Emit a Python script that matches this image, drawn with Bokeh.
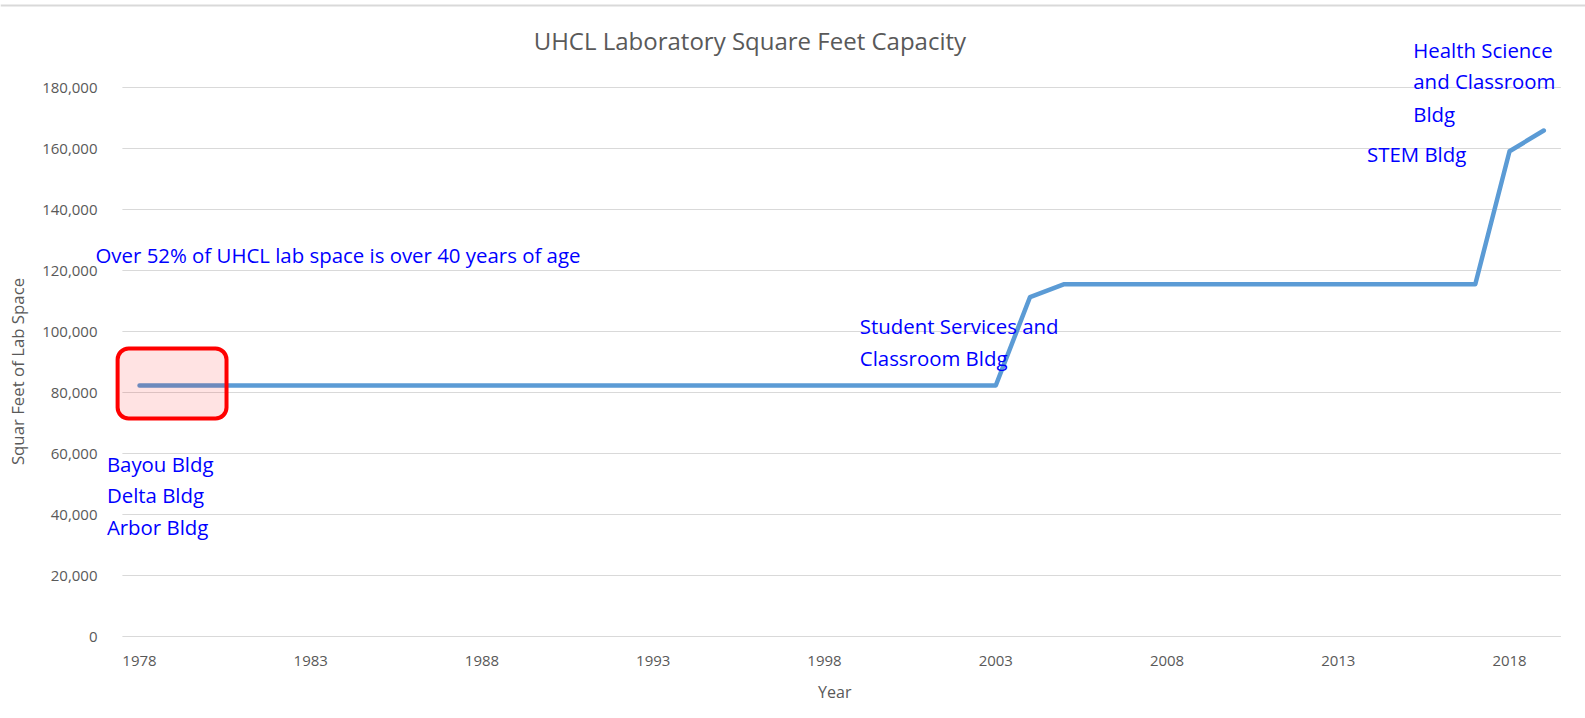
from bokeh.plotting import figure
from bokeh.models import Range1d, Label, BoxAnnotation, ColumnDataSource
from bokeh.core.properties import value
from bokeh.embed import file_html
from bokeh.resources import INLINE
import math

# ---- data ----
years = list(range(1978, 2020))
sqft = [82300] * 26 + [111300] + [115500] * 13 + [159100, 165900]
x_ticks = [1978, 1983, 1988, 1993, 1998, 2003, 2008, 2013, 2018]
y_ticks = [0, 20000, 40000, 60000, 80000, 100000, 120000, 140000, 160000, 180000]
y_tick_labels = ["{:,}".format(v) for v in y_ticks]
x_tick_labels = [str(v) for v in x_ticks]

title_text = "UHCL Laboratory Square Feet Capacity"
y_label = "Squar Feet of Lab Space"
x_label = "Year"

note_texts = ["Over 52% of UHCL lab space is over 40 years of age",
              "Bayou Bldg", "Delta Bldg", "Arbor Bldg",
              "Student Services and", "Classroom Bldg",
              "Health Science", "and Classroom", "Bldg",
              "STEM Bldg"]
note_x = [1976.715, 1977.047, 1977.047, 1977.047, 1999.03, 1999.03, 2015.19, 2015.19, 2015.19, 2013.84]
note_y = [124920, 56620, 46230, 35830, 101740, 91250, 192360, 181970, 171380, 158260]

box_x = [1977.36, 1980.54]
box_y = [71480, 94430]

# ---- layout constants ----
X_START, X_END = 1973.941, 2020.218
Y_START, Y_END = -26885, 208525
CAT_LO, CAT_HI = 1977.5, 2019.5

GRAY = "#595959"
BLUE = "#0000ff"
FONT = "Open Sans"

p = figure(width=1585, height=718, output_backend="svg", toolbar_location=None,
           x_range=Range1d(X_START, X_END), y_range=Range1d(Y_START, Y_END),
           min_border_left=0, min_border_right=0, min_border_top=0, min_border_bottom=0)
p.xaxis.visible = False
p.yaxis.visible = False
p.grid.visible = False
p.outline_line_color = None
p.background_fill_color = "white"
p.border_fill_color = "white"

# outer chart border line at top
p.segment(x0=[X_START], x1=[X_END], y0=[206890], y1=[206890], line_color="#d9d9d9", line_width=2)

# horizontal gridlines at y ticks
p.segment(x0=[CAT_LO] * len(y_ticks), x1=[CAT_HI] * len(y_ticks), y0=y_ticks, y1=y_ticks,
          line_color="#d9d9d9", line_width=1.2)

# tick labels
ysrc = ColumnDataSource(dict(x=[1976.773] * len(y_ticks), y=y_ticks, t=y_tick_labels))
p.text(x="x", y="y", text="t", source=ysrc, text_align="right", text_baseline="middle",
       text_color=GRAY, text_font=value(FONT), text_font_size="15px")
xsrc = ColumnDataSource(dict(x=x_ticks, y=[-7870] * len(x_ticks), t=x_tick_labels))
p.text(x="x", y="y", text="t", source=xsrc, text_align="center", text_baseline="middle",
       text_color=GRAY, text_font=value(FONT), text_font_size="15px")

# data line
p.line(years, sqft, line_color="#5b9bd5", line_width=4.5, line_join="round", line_cap="round")

# title and axis titles
p.add_layout(Label(x=1995.82, y=195570, text=title_text, text_align="center", text_baseline="middle",
                   text_color=GRAY, text_font=FONT, text_font_size="24px"))
p.add_layout(Label(x=1974.437, y=86890, text=y_label, angle=math.pi / 2, text_align="center",
                   text_baseline="middle", text_color=GRAY, text_font=FONT, text_font_size="16.8px"))
p.add_layout(Label(x=1998.3, y=-18250, text=x_label, text_align="center", text_baseline="middle",
                   text_color=GRAY, text_font=FONT, text_font_size="16px"))

# highlight box
p.add_layout(BoxAnnotation(left=box_x[0], right=box_x[1], bottom=box_y[0], top=box_y[1],
                           fill_color="#ff0000", fill_alpha=0.11, line_color="#ff0000",
                           line_width=4, line_alpha=1.0, border_radius=11))

for t, x, y in zip(note_texts, note_x, note_y):
    p.add_layout(Label(x=x, y=y, text=t, text_align="left", text_baseline="middle",
                       text_color=BLUE, text_font=FONT, text_font_size="20.4px"))

open("out.html", "w").write(file_html(p, INLINE))
